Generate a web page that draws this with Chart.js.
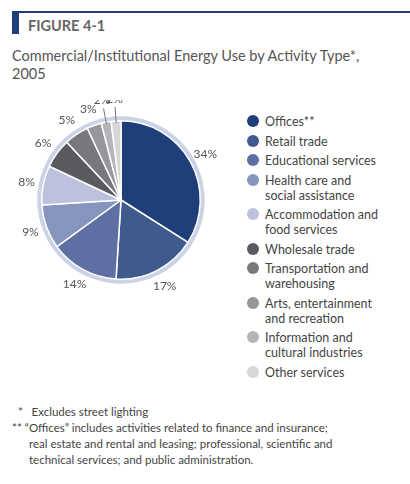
<!DOCTYPE html>
<html>
<head>
<meta charset="utf-8">
<script src="https://cdn.jsdelivr.net/npm/chart.js@4"></script>
<style>
body { margin: 0; width: 410px; height: 484px; background: #fff; font-family: Lato, "Open Sans", sans-serif; color: #555; position: relative; overflow: hidden; }
.bar { position: absolute; left: 12px; top: 11px; width: 398px; height: 2px; background: #1f3f7a; }
.block { position: absolute; left: 12px; top: 11px; width: 7px; height: 23px; background: #1f3f7a; }
.fig { position: absolute; left: 28px; top: 17px; font-size: 14.5px; font-weight: bold; color: #666; }
.title { position: absolute; left: 12px; top: 47px; font-size: 14.5px; line-height: 18px; color: #555; }
#wrap { position: absolute; left: 0; top: 100px; width: 242px; height: 200px; }
#legend { position: absolute; left: 247px; top: 114px; font-size: 12.5px; line-height: 15px; color: #444; }
#legend div { position: relative; padding-left: 18px; margin-bottom: 4.5px; }
#legend span { position: absolute; left: 0; top: 1px; width: 12px; height: 12px; border-radius: 50%; }
.notes { position: absolute; left: 12px; top: 404px; font-size: 11.5px; line-height: 16px; color: #444; }
</style>
</head>
<body>
<div class="bar"></div><div class="block"></div>
<div class="fig">FIGURE 4-1</div>
<div class="title">Commercial/Institutional Energy Use by Activity Type*,<br>2005</div>
<div id="wrap"><canvas id="pie"></canvas></div>
<div id="legend"></div>
<div class="notes">
<div>&nbsp;&nbsp;*&nbsp;&nbsp; Excludes street lighting</div>
<div>** “Offices” includes activities related to finance and insurance;</div>
<div style="padding-left:17px">real estate and rental and leasing; professional, scientific and</div>
<div style="padding-left:17px">technical services; and public administration.</div>
</div>
<script>
let categories = ['Offices**', 'Retail trade', 'Educational services', 'Health care and<br>social assistance', 'Accommodation and<br>food services', 'Wholesale trade', 'Transportation and<br>warehousing', 'Arts, entertainment<br>and recreation', 'Information and<br>cultural industries', 'Other services']
let shares = [34, 17, 14, 9, 8, 6, 5, 3, 2, 2]
let colors = ['#1f3f7a', '#3f5a8c', '#5e70a3', '#8595bd', '#bcc2dd', '#5a5b5f', '#77787c', '#96979b', '#b4b5b8', '#d6d7d9']

let legend = document.getElementById('legend')
categories.forEach(function (c, i) {
    legend.innerHTML += '<div><span style="background:' + colors[i] + '"></span>' + c + '</div>'
})

let labelPlugin = {
    id: 'labels',
    beforeDatasetsDraw: function (chart) {
        let arc = chart.getDatasetMeta(0).data[0]
        let ctx = chart.ctx
        ctx.save()
        ctx.beginPath()
        ctx.arc(arc.x, arc.y, arc.outerRadius + 2, 0, Math.PI * 2)
        ctx.strokeStyle = '#cdd3e6'
        ctx.lineWidth = 5
        ctx.stroke()
        ctx.restore()
    },
    afterDatasetsDraw: function (chart) {
        let ctx = chart.ctx
        ctx.save()
        ctx.font = '12px Lato'
        ctx.fillStyle = '#555'
        ctx.strokeStyle = '#777'
        ctx.lineWidth = 1
        ctx.textAlign = 'center'
        ctx.textBaseline = 'middle'
        chart.getDatasetMeta(0).data.forEach(function (a, i) {
            let mid = (a.startAngle + a.endAngle) / 2
            let r = a.outerRadius
            let small = shares[i] <= 2
            let d = small ? r + 22 : r + 17
            if (small) {
                ctx.beginPath()
                ctx.moveTo(a.x + Math.cos(mid) * (r - 2), a.y + Math.sin(mid) * (r - 2))
                ctx.lineTo(a.x + Math.cos(mid) * (r + 14), a.y + Math.sin(mid) * (r + 14))
                ctx.stroke()
            }
            ctx.fillText(shares[i] + '%', a.x + Math.cos(mid) * d, a.y + Math.sin(mid) * d)
        })
        ctx.restore()
    }
}

new Chart(document.getElementById('pie'), {
    type: 'pie',
    data: {
        labels: categories,
        datasets: [{
            data: shares,
            backgroundColor: colors,
            borderColor: '#fff',
            borderWidth: 1.5
        }]
    },
    options: {
        responsive: true,
        maintainAspectRatio: false,
        animation: false,
        layout: { padding: 20 },
        plugins: { legend: { display: false }, tooltip: { enabled: false } }
    },
    plugins: [labelPlugin]
})
</script>
</body>
</html>
